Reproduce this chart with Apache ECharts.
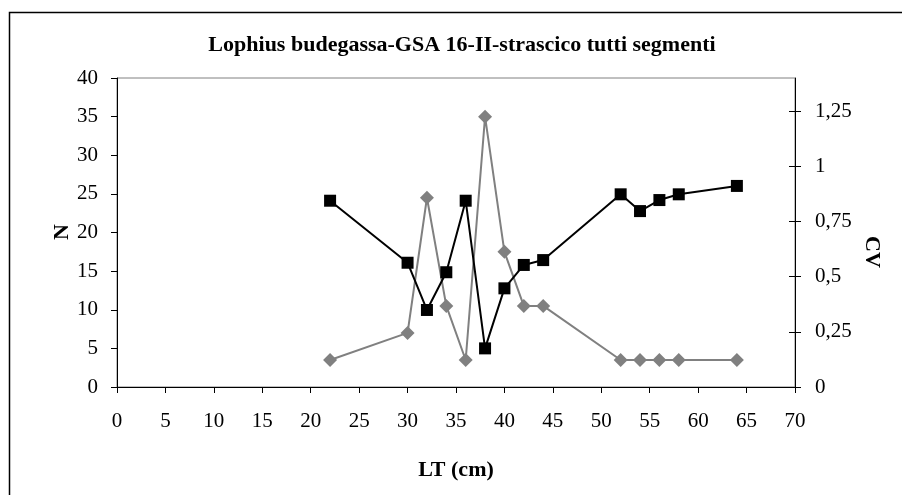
<!DOCTYPE html>
<html>
<head>
<meta charset="utf-8">
<script src="https://cdn.jsdelivr.net/npm/echarts@6/dist/echarts.min.js"></script>
<style>html,body{margin:0;padding:0;background:#fff;}#c{width:902px;height:495px;}</style>
</head>
<body>
<div id="c"></div>
<script>
const titleText = 'Lophius budegassa-GSA 16-II-strascico tutti segmenti';
const xAxisTitle = 'LT (cm)';
const leftAxisTitle = 'N';
const rightAxisTitle = 'CV';
const lengthsLT = [22, 30, 32, 34, 36, 38, 40, 42, 44, 52, 54, 56, 58, 64];
const valuesN = [3.5, 7, 24.5, 10.5, 3.5, 35, 17.5, 10.5, 10.5, 3.5, 3.5, 3.5, 3.5, 3.5];
const valuesCV = [0.844, 0.563, 0.349, 0.52, 0.844, 0.175, 0.447, 0.553, 0.575, 0.873, 0.797, 0.847, 0.873, 0.911];
const cvTicks = [0, 0.25, 0.5, 0.75, 1, 1.25];
const cvMax = 1.4;

const font = 'Liberation Serif, Times New Roman, serif';
const chart = echarts.init(document.getElementById('c'), null, {renderer: 'canvas'});
const pairs = (xs, ys) => xs.map((x, i) => [x, ys[i]]);
const boldText = (text, x, y, rot) => ({
  type: 'text', x: x, y: y, rotation: rot, silent: true,
  style: {text: text, fontFamily: font, fontSize: 22, fontWeight: 'bold', fill: '#000', align: 'center', verticalAlign: 'middle'}
});
chart.setOption({
  animation: false,
  backgroundColor: '#fff',
  graphic: [
    {type: 'rect', silent: true, shape: {x: 9.5, y: 12.5, width: 1000, height: 600}, style: {fill: null, stroke: '#000', lineWidth: 1.5}},
    boldText(titleText, 462, 45, 0),
    boldText(xAxisTitle, 456, 470, 0),
    boldText(leftAxisTitle, 62, 232, Math.PI / 2),
    boldText(rightAxisTitle, 872, 252, -Math.PI / 2)
  ],
  grid: {left: 117, right: 107, top: 78, bottom: 108, show: true, borderColor: '#808080', borderWidth: 1},
  xAxis: {
    type: 'value', min: 0, max: 70, interval: 5,
    axisLine: {onZero: false, lineStyle: {color: '#000', width: 1}},
    axisTick: {show: true, inside: false, length: 6, lineStyle: {color: '#000'}},
    axisLabel: {fontFamily: font, fontSize: 21, color: '#000', margin: 24},
    splitLine: {show: false}
  },
  yAxis: [
    {
      type: 'value', min: 0, max: 40, interval: 5, position: 'left',
      axisLine: {show: true, lineStyle: {color: '#000', width: 1}},
      axisTick: {show: true, inside: false, length: 6, lineStyle: {color: '#000'}},
      axisLabel: {fontFamily: font, fontSize: 21, color: '#000', margin: 19},
      splitLine: {show: false}
    },
    {
      type: 'value', min: 0, max: cvMax, position: 'right',
      axisLine: {show: true, lineStyle: {color: '#000', width: 1}},
      axisTick: {show: true, inside: false, length: 6, customValues: cvTicks, lineStyle: {color: '#000'}},
      axisLabel: {fontFamily: font, fontSize: 21, color: '#000', margin: 20, customValues: cvTicks,
        formatter: v => String(v).replace('.', ',')},
      splitLine: {show: false}
    },
    {
      type: 'value', min: 0, max: cvMax, position: 'right',
      axisLine: {show: false},
      axisTick: {show: true, inside: true, length: 6, customValues: cvTicks, lineStyle: {color: '#000'}},
      axisLabel: {show: false},
      splitLine: {show: false}
    }
  ],
  series: [
    {
      name: 'N', type: 'line', yAxisIndex: 0, data: pairs(lengthsLT, valuesN),
      symbol: 'diamond', symbolSize: 14,
      lineStyle: {color: '#808080', width: 2},
      itemStyle: {color: '#808080'}
    },
    {
      name: 'CV', type: 'line', yAxisIndex: 1, data: pairs(lengthsLT, valuesCV),
      symbol: 'rect', symbolSize: 12,
      lineStyle: {color: '#000', width: 2},
      itemStyle: {color: '#000'}
    }
  ]
});
</script>
</body>
</html>
